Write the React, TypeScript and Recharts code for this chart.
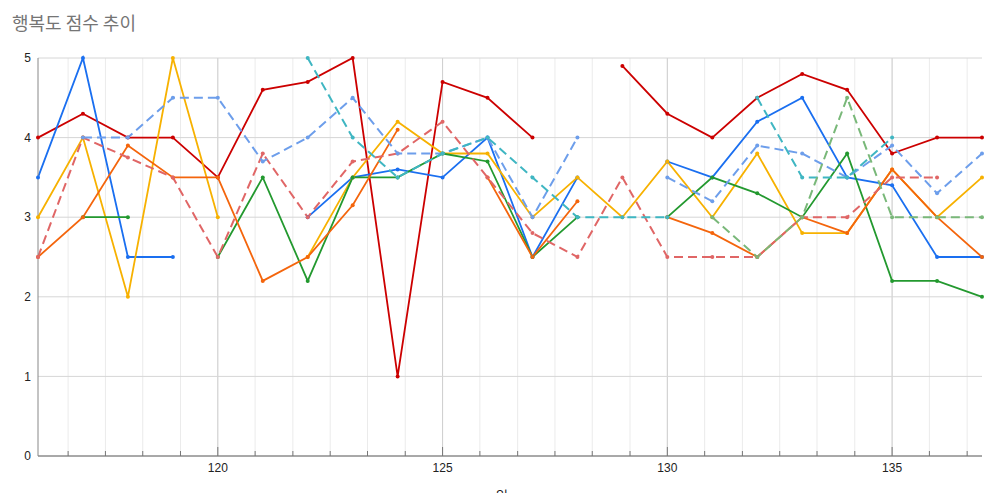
import { LineChart, Line, XAxis, YAxis, CartesianGrid } from 'recharts'

const days = [116, 117, 118, 119, 120, 121, 122, 123, 124, 125, 126, 127, 128, 129, 130, 131, 132, 133, 134, 135, 136, 137]

const redSolid = [4.0, 4.3, 4.0, 4.0, 3.5, 4.6, 4.7, 5.0, 1.0, 4.7, 4.5, 4.0, null, 4.9, 4.3, 4.0, 4.5, 4.8, 4.6, 3.8, 4.0, 4.0]
const blueSolid = [3.5, 5.0, 2.5, 2.5, null, null, 3.0, 3.5, 3.6, 3.5, 4.0, 2.5, 3.5, null, 3.7, 3.5, 4.2, 4.5, 3.5, 3.4, 2.5, 2.5]
const yellowSolid = [3.0, 4.0, 2.0, 5.0, 3.0, null, 2.5, 3.5, 4.2, 3.8, 3.8, 3.0, 3.5, 3.0, 3.7, 3.0, 3.8, 2.8, 2.8, 3.6, 3.0, 3.5]
const greenSolid = [null, 3.0, 3.0, null, 2.5, 3.5, 2.2, 3.5, 3.5, 3.8, 3.7, 2.5, 3.0, null, 3.0, 3.5, 3.3, 3.0, 3.8, 2.2, 2.2, 2.0]
const orangeSolid = [2.5, 3.0, 3.9, 3.5, 3.5, 2.2, 2.5, 3.15, 4.1, null, 3.5, 2.5, 3.2, null, 3.0, 2.8, 2.5, 3.0, 2.8, 3.6, 3.0, 2.5]
const pinkDashed = [2.5, 4.0, 3.75, 3.5, 2.5, 3.8, 3.0, 3.7, 3.8, 4.2, 3.5, 2.8, 2.5, 3.5, 2.5, 2.5, 2.5, 3.0, 3.0, 3.5, 3.5, null]
const skyDashed = [null, 4.0, 4.0, 4.5, 4.5, 3.7, 4.0, 4.5, 3.8, 3.8, 4.0, 3.0, 4.0, null, 3.5, 3.2, 3.9, 3.8, 3.5, 3.9, 3.3, 3.8]
const tealDashed = [null, null, null, null, null, null, 5.0, 4.0, 3.5, 3.8, 4.0, 3.5, 3.0, 3.0, 3.0, null, 4.5, 3.5, 3.5, 4.0, null, null]
const greenDashed = [null, null, null, null, null, null, null, null, null, null, null, null, null, null, null, 3.0, 2.5, 3.0, 4.5, 3.0, 3.0, 3.0]

const majorTicks = [120, 125, 130, 135]
const gridTicks = [116.67, 117.5, 118.33, 119.17, 120, 120.83, 121.67, 122.5, 123.33, 124.17, 125, 125.83, 126.67, 127.5, 128.33, 129.17, 130, 130.83, 131.67, 132.5, 133.33, 134.17, 135, 135.83, 136.67]
const yTicks = [0, 1, 2, 3, 4, 5]

const series = [
  { key: 'red', values: redSolid, color: '#cc0000', dashed: false },
  { key: 'blue', values: blueSolid, color: '#1a6ff0', dashed: false },
  { key: 'yellow', values: yellowSolid, color: '#f7b100', dashed: false },
  { key: 'green', values: greenSolid, color: '#23992f', dashed: false },
  { key: 'orange', values: orangeSolid, color: '#f4650c', dashed: false },
  { key: 'pink', values: pinkDashed, color: '#e06666', dashed: true },
  { key: 'sky', values: skyDashed, color: '#6d9eeb', dashed: true },
  { key: 'teal', values: tealDashed, color: '#3fb6c2', dashed: true },
  { key: 'greenDash', values: greenDashed, color: '#79b879', dashed: true },
]

const data = days.map((d, i) => {
  const row: Record<string, number | null> = { x: d }
  series.forEach((s) => {
    row[s.key] = s.values[i]
  })
  return row
})

function DayTick(props: any) {
  const { x, y, payload } = props
  const major = majorTicks.includes(payload.value)
  return (
    <g>
      <line x1={x} x2={x} y1={y - (major ? 9 : 5)} y2={y} stroke="#777" strokeWidth={1} />
      {major && (
        <text x={x} y={y + 16} textAnchor="middle" fill="#222" fontSize={12}>
          {payload.value}
        </text>
      )}
    </g>
  )
}

export default function App() {
  return (
    <div
      style={{
        position: 'absolute',
        left: 0,
        top: 0,
        width: 1000,
        height: 493,
        background: '#fff',
        fontFamily: '"Liberation Sans", Arial, sans-serif',
        overflow: 'hidden',
      }}
    >
      <div
        style={{
          position: 'absolute',
          left: 12,
          top: 9,
          fontSize: 18,
          color: '#757575',
          fontFamily: '"Noto Sans CJK KR", "Noto Sans", sans-serif',
        }}
      >
        행복도 점수 추이
      </div>
      <LineChart
        width={1000}
        height={493}
        data={data}
        margin={{ top: 58, right: 18, bottom: 0, left: 0 }}
      >
        <CartesianGrid horizontal={false} verticalValues={gridTicks} stroke="#ebebeb" />
        <CartesianGrid horizontal={false} verticalValues={majorTicks} stroke="#cfcfcf" />
        <CartesianGrid vertical={false} stroke="#d6d6d6" />
        <XAxis
          dataKey="x"
          type="number"
          domain={[116, 137]}
          ticks={gridTicks}
          interval={0}
          height={37}
          tickSize={0}
          tickMargin={0}
          tickLine={false}
          axisLine={{ stroke: '#666' }}
          tick={<DayTick />}
        />
        <YAxis
          domain={[0, 5]}
          ticks={yTicks}
          width={38}
          tickSize={0}
          tickMargin={7}
          tickLine={false}
          axisLine={{ stroke: '#888' }}
          tick={{ fill: '#222', fontSize: 12 }}
        />
        {series.map((s) => (
          <Line
            key={s.key}
            dataKey={s.key}
            type="linear"
            stroke={s.color}
            strokeWidth={s.dashed ? 2 : 1.8}
            strokeDasharray={s.dashed ? '9 5' : undefined}
            dot={{ r: 2, fill: s.color, stroke: s.color, strokeWidth: 0 }}
            isAnimationActive={false}
          />
        ))}
      </LineChart>
      <div
        style={{
          position: 'absolute',
          left: 496,
          top: 485,
          fontSize: 13,
          color: '#222',
          fontFamily: '"Noto Sans CJK KR", sans-serif',
        }}
      >
        일
      </div>
    </div>
  )
}
